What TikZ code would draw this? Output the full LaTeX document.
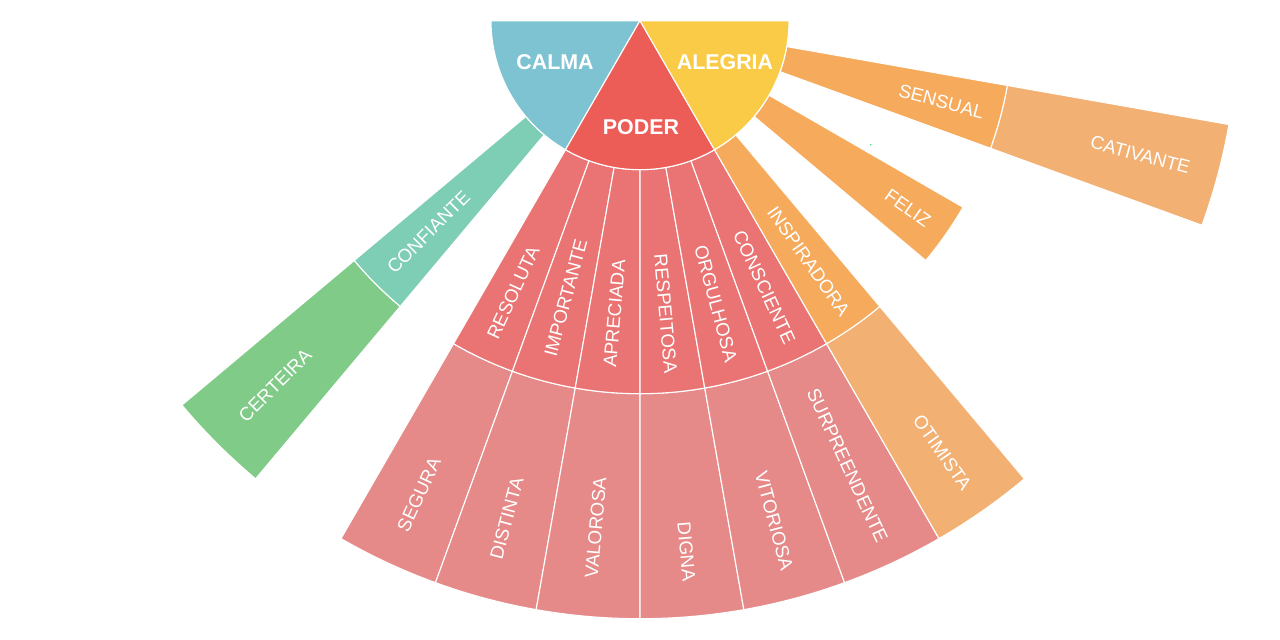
\documentclass[tikz,border=0pt]{standalone}
\usepackage{fontspec}
\setmainfont{Liberation Sans}
\definecolor{calma}{HTML}{7EC3D1}
\definecolor{poder}{HTML}{EC5D57}
\definecolor{alegria}{HTML}{F9CB47}
\definecolor{redtwo}{HTML}{EA7473}
\definecolor{redthree}{HTML}{E58A88}
\definecolor{teal}{HTML}{7ECDB5}
\definecolor{greenthree}{HTML}{80CB88}
\definecolor{orangetwo}{HTML}{F6AA5C}
\definecolor{orangethree}{HTML}{F3B073}
\definecolor{dotgreen}{HTML}{40E080}
\tikzset{
  seg/.style={draw=white, line width=1.1pt, line join=round},
  lab/.style={text=white, font=\fontsize{18.7}{18.7}\selectfont, inner sep=0pt},
  toplab/.style={text=white, font=\bfseries\fontsize{21.4}{21.4}\selectfont, inner sep=0pt}
}
\newcommand{\mysector}[5]{%
  \path[seg, fill=#1] (#2:#4pt) arc[start angle=#2, end angle=#3, radius=#4pt]
    -- (#3:#5pt) arc[start angle=#3, end angle=#2, radius=#5pt] -- cycle;}
\newcommand{\mypie}[4]{%
  \path[seg, fill=#1] (0pt,0pt) -- (#2:#4pt) arc[start angle=#2, end angle=#3, radius=#4pt] -- cycle;}
\begin{document}
\begin{tikzpicture}[x=1pt,y=1pt]
\useasboundingbox (-640pt,-619.3pt) rectangle (640pt,20.7pt);
% ring 3
\mysector{greenthree}{220}{230}{373}{598}
\foreach \a in {240,250,...,290}{\pgfmathtruncatemacro{\b}{\a+10}\mysector{redthree}{\a}{\b}{373}{598}}
\mysector{orangethree}{300}{310}{373}{598}
\mysector{orangethree}{340}{350}{373}{598}
% ring 2
\mysector{teal}{220}{230}{149}{373}
\foreach \a in {240,250,...,290}{\pgfmathtruncatemacro{\b}{\a+10}\mysector{redtwo}{\a}{\b}{149}{373}}
\mysector{orangetwo}{300}{310}{149}{373}
\mysector{orangetwo}{320}{330}{149}{373}
\mysector{orangetwo}{340}{350}{149}{373}
% ring 1
\mypie{calma}{180}{240}{149}
\mypie{poder}{240}{300}{149}
\mypie{alegria}{300}{360}{149}
% tiny dot
\fill[dotgreen] (230.7pt,-124pt) circle[radius=0.9pt];
% top labels
\node[toplab] (calma) at (-85pt,-41.3pt) {CALMA};
\node[toplab] (alegria) at (85pt,-41.3pt) {ALEGRIA};
\node[toplab] (poder) at (1pt,-106.3pt) {PODER};
% ring 2 labels
\node[lab, rotate=45] (confiante) at (225:299pt) {CONFIANTE};
\node[lab, rotate=65] (resoluta) at (245:300pt) {RESOLUTA};
\node[lab, rotate=75] (importante) at (255:287pt) {IMPORTANTE};
\node[lab, rotate=85] (apreciada) at (265:294pt) {APRECIADA};
\node[lab, rotate=-85] (respeitosa) at (275:294pt) {RESPEITOSA};
\node[lab, rotate=-75] (orgulhosa) at (285:293pt) {ORGULHOSA};
\node[lab, rotate=-65] (consciente) at (295:294pt) {CONSCIENTE};
\node[lab, rotate=-55] (inspiradora) at (305:294pt) {INSPIRADORA};
\node[lab, rotate=-35] (feliz) at (325:327pt) {FELIZ};
\node[lab, rotate=-15] (sensual) at (345:312pt) {SENSUAL};
% ring 3 labels
\node[lab, rotate=45] (certeira) at (225:516pt) {CERTEIRA};
\node[lab, rotate=65] (segura) at (245:523pt) {SEGURA};
\node[lab, rotate=75] (distinta) at (255:515pt) {DISTINTA};
\node[lab, rotate=85] (valorosa) at (265:509pt) {VALOROSA};
\node[lab, rotate=-85] (digna) at (275:533pt) {DIGNA};
\node[lab, rotate=-75] (vitoriosa) at (285:518pt) {VITORIOSA};
\node[lab, rotate=-65] (surpreendente) at (295:491pt) {SURPREENDENTE};
\node[lab, rotate=-55] (otimista) at (305:527pt) {OTIMISTA};
\node[lab, rotate=-15] (cativante) at (345:518pt) {CATIVANTE};
\end{tikzpicture}
\end{document}
